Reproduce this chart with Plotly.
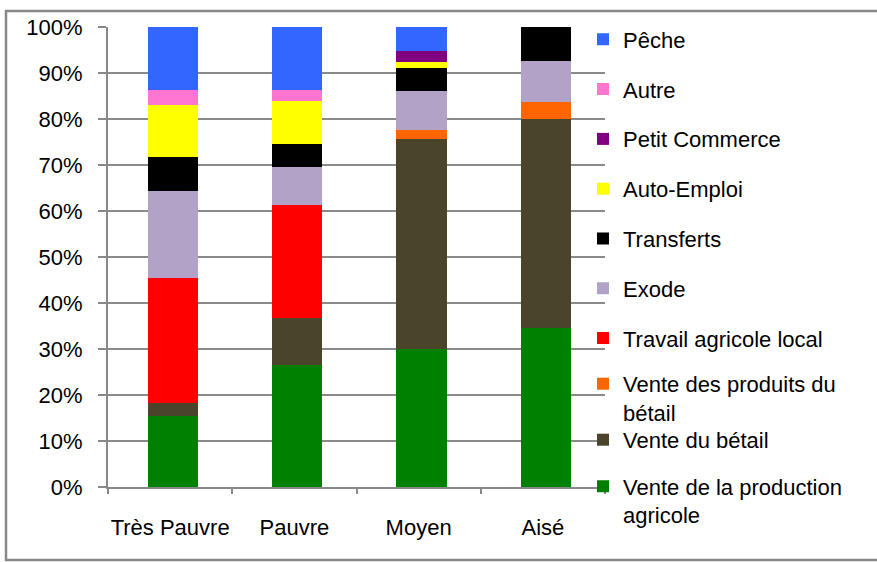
import plotly.graph_objects as go

categories = ["Très Pauvre", "Pauvre", "Moyen", "Aisé"]

# series, bottom to top (values in %)
vente_production_agricole = [15.5, 26.6, 30.0, 34.6]
vente_betail = [2.7, 10.2, 45.7, 45.5]
vente_produits_betail = [0.0, 0.0, 2.0, 3.5]
travail_agricole_local = [27.3, 24.6, 0.0, 0.0]
exode = [18.9, 8.2, 8.3, 9.1]
transferts = [7.4, 5.0, 5.0, 7.3]
auto_emploi = [11.3, 9.4, 1.3, 0.0]
petit_commerce = [0.0, 0.0, 2.4, 0.0]
autre = [3.3, 2.2, 0.0, 0.0]
peche = [13.6, 13.8, 5.3, 0.0]

series_names = [
    "Vente de la production<br>agricole",
    "Vente du bétail",
    "Vente des produits du<br>bétail",
    "Travail agricole local",
    "Exode",
    "Transferts",
    "Auto-Emploi",
    "Petit Commerce",
    "Autre",
    "Pêche",
]
series_values = [
    vente_production_agricole, vente_betail, vente_produits_betail,
    travail_agricole_local, exode, transferts, auto_emploi,
    petit_commerce, autre, peche,
]
colors = ["#008000", "#4A452A", "#FF6600", "#FF0000", "#B3A2C7",
          "#000000", "#FFFF00", "#800080", "#FF75D0", "#3366FF"]

y_ticks = [0, 10, 20, 30, 40, 50, 60, 70, 80, 90, 100]

W, H = 877, 562
# plot area in screen coords: x 108..605, y 27..487
ML = 108
MR = W - 605
MT = 27
MB = H - 487
PW, PH = W - ML - MR, H - MT - MB

def px_x(p):
    return (p - ML) / PW

def px_y(p):
    return (H - MB - p) / PH

FONT = "Liberation Sans, Arial, sans-serif"
FS = 22
LINE_H = FS * 1.3

# small per-item nudges (px) to keep the wrapped legend text clear of the next item
nudge = {"Vente des produits du<br>bétail": -3, "Vente du bétail": 2}

fig = go.Figure()
n = len(series_names)
legend_layout = {}
for i, (name, vals, col) in enumerate(zip(series_names, series_values, colors)):
    rank = n - 1 - i  # 0 = top legend item
    lname = "legend" if rank == 0 else f"legend{rank + 1}"
    fig.add_trace(go.Bar(
        x=categories, y=vals, name=name,
        marker=dict(color=col, line=dict(width=0)),
        width=0.405, offset=-0.18,
        legend=lname,
    ))
    sym_y = 39.5 + 49.8 * rank + nudge.get(name, 0)
    if "<br>" in name:
        sym_y += LINE_H / 2 - 1
    legend_layout[lname] = dict(
        x=px_x(583), xanchor="left",
        y=px_y(sym_y), yanchor="middle",
        valign="top",
        bgcolor="rgba(0,0,0,0)",
        font=dict(family=FONT, size=FS, color="#000000"),
        itemclick=False, itemdoubleclick=False,
    )

fig.update_layout(
    width=W, height=H,
    margin=dict(l=ML, r=MR, t=MT, b=MB, pad=0, autoexpand=False),
    paper_bgcolor="white", plot_bgcolor="white",
    barmode="stack",
    showlegend=True,
    font=dict(family=FONT, size=FS, color="#000000"),
    **legend_layout,
)

fig.update_yaxes(
    range=[0, 100], tickvals=y_ticks, ticktext=[f"{v}%" for v in y_ticks],
    showgrid=True, gridcolor="#8a8a8a", gridwidth=2,
    showline=True, linecolor="#888888", linewidth=2,
    ticks="outside", ticklen=8, tickcolor="#888888", tickwidth=1.5,
    ticklabelstandoff=11, zeroline=False, automargin=False,
    tickfont=dict(family=FONT, size=FS, color="#000000"),
)
fig.update_xaxes(
    showgrid=False, showline=True, linecolor="#888888", linewidth=2,
    ticks="outside", tickson="boundaries", ticklen=5, tickcolor="#888888", tickwidth=1.5,
    ticklabelstandoff=20, tickangle=0, automargin=False,
    tickfont=dict(family=FONT, size=FS, color="#000000"),
)

fig.add_shape(
    type="rect", xref="paper", yref="paper",
    x0=px_x(6), x1=px_x(900), y0=px_y(560), y1=px_y(11),
    line=dict(color="#888888", width=2.5), fillcolor="rgba(0,0,0,0)",
    layer="above",
)

fig.write_html(
    "out.html",
    config={"displayModeBar": False},
    post_script="document.body.style.margin='0px';",
)
